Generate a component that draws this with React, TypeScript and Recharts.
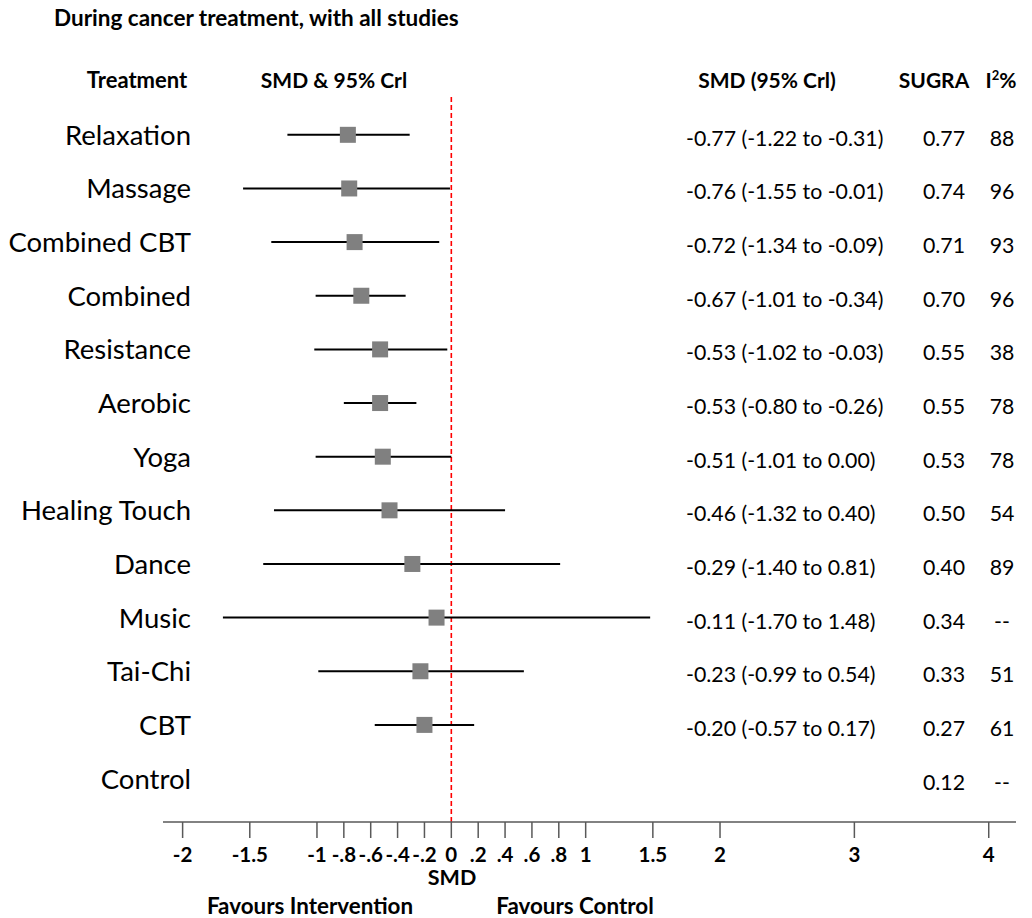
import React from 'react';
import { ScatterChart, Scatter, XAxis, YAxis, ErrorBar, ReferenceLine } from 'recharts';

const treatments = ['Relaxation', 'Massage', 'Combined CBT', 'Combined', 'Resistance', 'Aerobic', 'Yoga', 'Healing Touch', 'Dance', 'Music', 'Tai-Chi', 'CBT', 'Control'];
const smd = [-0.77, -0.76, -0.72, -0.67, -0.53, -0.53, -0.51, -0.46, -0.29, -0.11, -0.23, -0.2];
const lower = [-1.22, -1.55, -1.34, -1.01, -1.02, -0.8, -1.01, -1.32, -1.4, -1.7, -0.99, -0.57];
const upper = [-0.31, -0.01, -0.09, -0.34, -0.03, -0.26, 0.0, 0.4, 0.81, 1.48, 0.54, 0.17];
const sugra = ['0.77', '0.74', '0.71', '0.70', '0.55', '0.55', '0.53', '0.50', '0.40', '0.34', '0.33', '0.27', '0.12'];
const i2 = ['88', '96', '93', '96', '38', '78', '78', '54', '89', '--', '51', '61', '--'];
const xTicks = [-2, -1.5, -1, -0.8, -0.6, -0.4, -0.2, 0, 0.2, 0.4, 0.6, 0.8, 1, 1.5, 2, 3, 4];
const rowTicks = treatments.map((_, i) => i);

// one point per treatment (Control has no estimate), errors as [below, above]
const rows = smd.map((v, i) => ({ row: i, smd: v, err: [v - lower[i], upper[i] - v] }));

const fmtTick = (v: number) => {
  if (Number.isInteger(v)) return String(v);
  const s = Math.abs(v).toString().replace(/^0/, '');
  return (v < 0 ? '-' : '') + s;
};

const fmtCrl = (i: number) =>
  `${smd[i].toFixed(2)} (${lower[i].toFixed(2)} to ${upper[i].toFixed(2)})`;

// left axis tick draws the whole table row: name, SMD text, SUGRA, I2
const RowTick = (props: any) => {
  const { y, payload } = props;
  const i = payload.value as number;
  return (
    <g>
      <text x={191} y={y + 10} textAnchor="end" fontSize={27.5} fill="#000">{treatments[i]}</text>
      {i < smd.length && (
        <text x={686} y={y + 11} fontSize={21.3} fill="#000">{fmtCrl(i)}</text>
      )}
      <text x={944} y={y + 11} textAnchor="middle" fontSize={21.3} fill="#000">{sugra[i]}</text>
      <text x={1002} y={y + 11} textAnchor="middle" fontSize={21.3} fill="#000">{i2[i]}</text>
    </g>
  );
};

const Square = (props: any) => {
  const { cx, cy } = props;
  return <rect x={cx - 8} y={cy - 8} width={16} height={16} fill="#808080" />;
};

export default function App() {
  return (
    <div style={{ position: 'absolute', left: 0, top: 0, fontFamily: 'Lato', background: '#fff' }}>
      <ScatterChart width={1032} height={918} margin={{ top: 97, right: 16, bottom: 36, left: 0 }}>
        <XAxis
          type="number"
          dataKey="smd"
          domain={[-2.146, 4.203]}
          allowDataOverflow
          ticks={xTicks}
          interval={0}
          tickFormatter={fmtTick}
          tickSize={16}
          tickMargin={9}
          height={60}
          stroke="#595959"
          strokeWidth={1.5}
          tick={{ fill: '#000', fontWeight: 'bold', fontSize: 20.5 }}
        />
        <YAxis
          type="number"
          dataKey="row"
          domain={[-0.705, 12.81]}
          allowDataOverflow
          reversed
          ticks={rowTicks}
          interval={0}
          width={163}
          axisLine={false}
          tickLine={false}
          tick={<RowTick />}
        />
        <ReferenceLine x={0} stroke="#ff0000" strokeWidth={1.6} strokeDasharray="5 3" />
        <Scatter data={rows} shape={<Square />} isAnimationActive={false}>
          <ErrorBar dataKey="err" direction="x" width={0} stroke="#000" strokeWidth={2} />
        </Scatter>

        <text x={54} y={26} fontSize={22.5} fontWeight="bold" fill="#000">During cancer treatment, with all studies</text>
        <text x={137} y={88} textAnchor="middle" fontSize={22} fontWeight="bold" fill="#000">Treatment</text>
        <text x={334} y={88} textAnchor="middle" fontSize={21} fontWeight="bold" fill="#000">SMD &amp; 95% Crl</text>
        <text x={767} y={88} textAnchor="middle" fontSize={21} fontWeight="bold" fill="#000">SMD (95% Crl)</text>
        <text x={934} y={88} textAnchor="middle" fontSize={21} fontWeight="bold" fill="#000">SUGRA</text>
        <text x={1001} y={88} textAnchor="middle" fontSize={21} fontWeight="bold" fill="#000">
          I<tspan fontSize={13} dy={-8}>2</tspan><tspan dy={8}>%</tspan>
        </text>
        <text x={452} y={885} textAnchor="middle" fontSize={21.5} fontWeight="bold" fill="#000">SMD</text>
        <text x={310} y={914} textAnchor="middle" fontSize={22.4} fontWeight="bold" fill="#000">Favours Intervention</text>
        <text x={575} y={914} textAnchor="middle" fontSize={22.4} fontWeight="bold" fill="#000">Favours Control</text>
      </ScatterChart>
    </div>
  );
}
